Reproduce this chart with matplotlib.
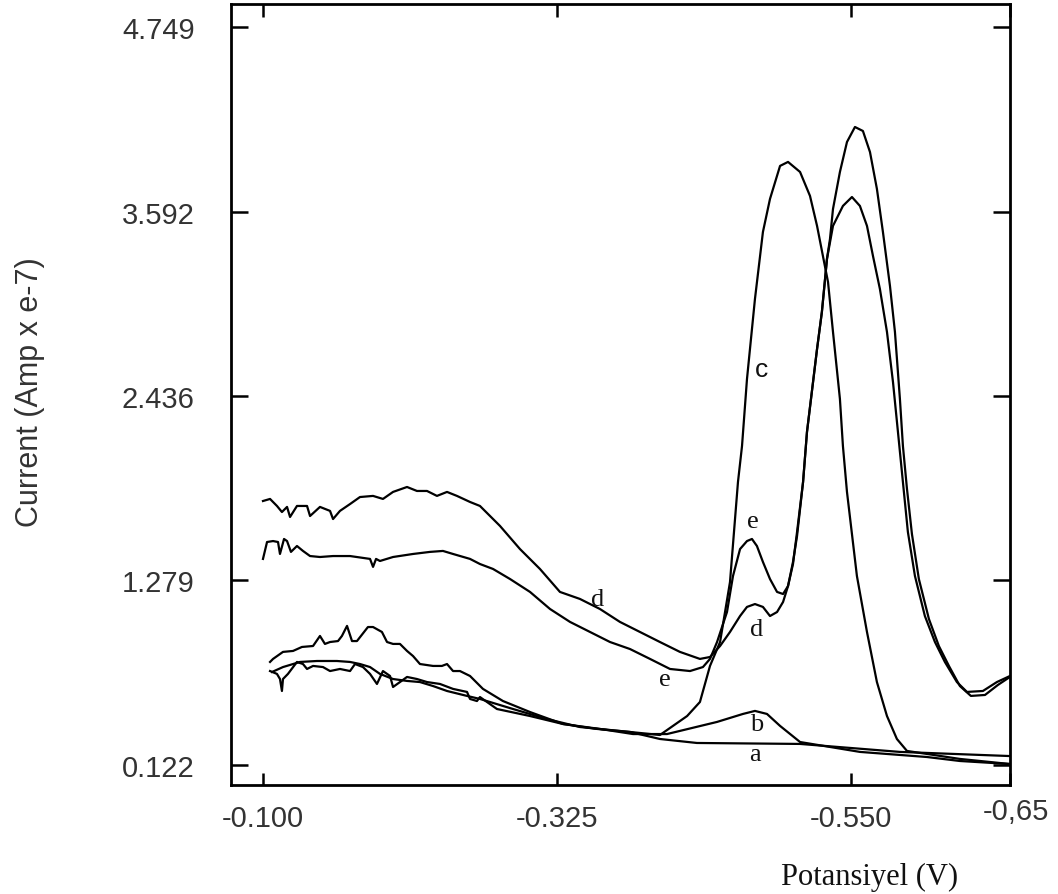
import matplotlib
matplotlib.use("Agg")
import matplotlib.pyplot as plt
from matplotlib.transforms import ScaledTranslation

# curve a (baseline)
a_x = [-0.1069, -0.1153, -0.1283, -0.1413, -0.1566, -0.1666, -0.1742, -0.1819, -0.1895, -0.1995,
       -0.2102, -0.2201, -0.2301, -0.2408, -0.2561, -0.2660, -0.2913, -0.3173, -0.3425, -0.3808,
       -0.4037, -0.4320, -0.5109, -0.5873, -0.6715]
a_y = [0.705, 0.736, 0.768, 0.774, 0.774, 0.768, 0.755, 0.736, 0.693, 0.661,
       0.649, 0.642, 0.617, 0.586, 0.555, 0.536, 0.473, 0.410, 0.360, 0.329,
       0.285, 0.260, 0.254, 0.204, 0.178]

# curve b (small peak)
b_x = [-0.1054, -0.1107, -0.1130, -0.1145, -0.1153, -0.1191, -0.1260, -0.1306, -0.1337, -0.1383,
       -0.1459, -0.1513, -0.1589, -0.1666, -0.1704, -0.1765, -0.1819, -0.1872, -0.1918, -0.1972,
       -0.1995, -0.2048, -0.2102, -0.2178, -0.2255, -0.2354, -0.2454, -0.2561, -0.2584, -0.2637,
       -0.2660, -0.2790, -0.3043, -0.3295, -0.3578, -0.3831, -0.4091, -0.4474, -0.4672, -0.4764,
       -0.4856, -0.4956, -0.5109, -0.5567, -0.6080, -0.6332, -0.6715]
b_y = [0.711, 0.693, 0.661, 0.586, 0.661, 0.693, 0.768, 0.755, 0.724, 0.743,
       0.736, 0.711, 0.724, 0.711, 0.755, 0.736, 0.693, 0.630, 0.711, 0.680,
       0.611, 0.642, 0.674, 0.661, 0.642, 0.630, 0.599, 0.580, 0.536, 0.523,
       0.548, 0.473, 0.429, 0.379, 0.348, 0.316, 0.316, 0.392, 0.442, 0.461,
       0.442, 0.367, 0.266, 0.204, 0.172, 0.147, 0.128]

# curve c (big single peak)
c_x = [-0.1054, -0.1077, -0.1153, -0.1230, -0.1298, -0.1383, -0.1436, -0.1474, -0.1513, -0.1574,
       -0.1604, -0.1643, -0.1681, -0.1719, -0.1803, -0.1842, -0.1910, -0.1949, -0.1995, -0.2048,
       -0.2102, -0.2148, -0.2201, -0.2301, -0.2369, -0.2408, -0.2454, -0.2507, -0.2584, -0.2683,
       -0.2836, -0.3043, -0.3295, -0.3555, -0.3808, -0.4037, -0.4245, -0.4343, -0.4420, -0.4497,
       -0.4573, -0.4634, -0.4665, -0.4703, -0.4764, -0.4825, -0.4879, -0.4956, -0.5017, -0.5109,
       -0.5185, -0.5239, -0.5284, -0.5323, -0.5361, -0.5414, -0.5437, -0.5468, -0.5544, -0.5621,
       -0.5697, -0.5774, -0.5850, -0.5927, -0.6332, -0.6715]
c_y = [0.768, 0.787, 0.831, 0.837, 0.862, 0.868, 0.931, 0.881, 0.893, 0.899,
       0.931, 0.994, 0.899, 0.899, 0.987, 0.987, 0.956, 0.893, 0.881, 0.881,
       0.837, 0.805, 0.755, 0.743, 0.743, 0.755, 0.711, 0.711, 0.680, 0.599,
       0.523, 0.454, 0.379, 0.348, 0.329, 0.310, 0.429, 0.517, 0.743, 0.893,
       1.269, 1.896, 2.122, 2.542, 3.044, 3.464, 3.671, 3.878, 3.903, 3.840,
       3.690, 3.502, 3.313, 3.150, 2.837, 2.417, 2.122, 1.834, 1.307, 0.956,
       0.642, 0.429, 0.285, 0.210, 0.160, 0.128]

# curve d
d_x = [-0.1000, -0.1054, -0.1107, -0.1145, -0.1184, -0.1207, -0.1260, -0.1337, -0.1360, -0.1436,
       -0.1513, -0.1536, -0.1589, -0.1666, -0.1742, -0.1842, -0.1918, -0.1995, -0.2102, -0.2178,
       -0.2255, -0.2331, -0.2408, -0.2484, -0.2584, -0.2660, -0.2813, -0.2966, -0.3119, -0.3272,
       -0.3425, -0.3578, -0.3731, -0.3884, -0.4037, -0.4190, -0.4343, -0.4420, -0.4497, -0.4573,
       -0.4650, -0.4703, -0.4764, -0.4825, -0.4879, -0.4933, -0.4979, -0.5017, -0.5055, -0.5086,
       -0.5132, -0.5162, -0.5239, -0.5276, -0.5315, -0.5361, -0.5437, -0.5506, -0.5567, -0.5621,
       -0.5667, -0.5720, -0.5774, -0.5820, -0.5858, -0.5896, -0.5934, -0.5988, -0.6064, -0.6141,
       -0.6217, -0.6309, -0.6386, -0.6508, -0.6615, -0.6715]
d_y = [1.777, 1.790, 1.746, 1.708, 1.740, 1.677, 1.746, 1.746, 1.683, 1.740,
       1.715, 1.664, 1.715, 1.758, 1.802, 1.809, 1.790, 1.834, 1.865, 1.840,
       1.840, 1.809, 1.834, 1.809, 1.771, 1.746, 1.621, 1.476, 1.351, 1.207,
       1.163, 1.100, 1.019, 0.956, 0.893, 0.831, 0.787, 0.799, 0.868, 0.956,
       1.056, 1.113, 1.131, 1.113, 1.056, 1.081, 1.144, 1.244, 1.395, 1.558,
       1.896, 2.210, 2.730, 2.962, 3.295, 3.502, 3.627, 3.683, 3.627, 3.502,
       3.313, 3.106, 2.837, 2.523, 2.210, 1.896, 1.583, 1.307, 1.056, 0.893,
       0.768, 0.642, 0.580, 0.586, 0.642, 0.680]

# curve e
e_x = [-0.1000, -0.1031, -0.1077, -0.1115, -0.1130, -0.1161, -0.1184, -0.1214, -0.1260, -0.1306,
       -0.1360, -0.1436, -0.1536, -0.1666, -0.1819, -0.1842, -0.1865, -0.1895, -0.1995, -0.2148,
       -0.2278, -0.2377, -0.2454, -0.2584, -0.2660, -0.2760, -0.2890, -0.3043, -0.3196, -0.3349,
       -0.3502, -0.3655, -0.3808, -0.3961, -0.4114, -0.4267, -0.4366, -0.4420, -0.4474, -0.4550,
       -0.4596, -0.4650, -0.4703, -0.4741, -0.4779, -0.4825, -0.4879, -0.4933, -0.4979, -0.5017,
       -0.5055, -0.5086, -0.5132, -0.5162, -0.5239, -0.5276, -0.5315, -0.5338, -0.5361, -0.5414,
       -0.5468, -0.5529, -0.5590, -0.5644, -0.5697, -0.5743, -0.5797, -0.5835, -0.5873, -0.5896,
       -0.5927, -0.5965, -0.6018, -0.6095, -0.6171, -0.6248, -0.6332, -0.6416, -0.6524, -0.6623,
       -0.6715]
e_y = [1.414, 1.520, 1.526, 1.520, 1.445, 1.539, 1.526, 1.458, 1.495, 1.464,
       1.432, 1.426, 1.432, 1.432, 1.414, 1.364, 1.414, 1.401, 1.426, 1.445,
       1.458, 1.464, 1.445, 1.414, 1.382, 1.351, 1.288, 1.207, 1.100, 1.019,
       0.956, 0.893, 0.849, 0.787, 0.724, 0.711, 0.736, 0.787, 0.893, 1.081,
       1.307, 1.476, 1.526, 1.539, 1.495, 1.395, 1.288, 1.207, 1.194, 1.244,
       1.382, 1.583, 1.896, 2.210, 2.730, 2.962, 3.295, 3.420, 3.608, 3.840,
       4.028, 4.122, 4.097, 3.965, 3.734, 3.464, 3.125, 2.837, 2.417, 2.122,
       1.853, 1.570, 1.288, 1.037, 0.868, 0.743, 0.617, 0.555, 0.561, 0.624,
       0.674]

x_ticks = [-0.100, -0.325, -0.550, -0.6715]
x_labels = ['-0.100', '-0.325', '-0.550', '-0,65']
y_ticks = [0.122, 1.279, 2.436, 3.592, 4.749]
y_labels = ['0.122', '1.279', '2.436', '3.592', '4.749']

# curve letters: (text, x, y, font)
letters = [('c', -0.4817, 2.605, 'Liberation Sans'),
           ('e', -0.4749, 1.652, 'Liberation Serif'),
           ('d', -0.3563, 1.163, 'Liberation Serif'),
           ('d', -0.4779, 0.975, 'Liberation Serif'),
           ('e', -0.4075, 0.661, 'Liberation Serif'),
           ('b', -0.4779, 0.379, 'Liberation Serif'),
           ('a', -0.4764, 0.191, 'Liberation Serif')]

fig = plt.figure(figsize=(10.58, 8.95), dpi=100)
ax = fig.add_axes([0.2183, 0.1218, 0.7363, 0.8726])

for xs, ys in [(a_x, a_y), (b_x, b_y), (c_x, c_y), (d_x, d_y), (e_x, e_y)]:
    ax.plot(xs, ys, color='black', lw=1.6)

for t, x, y, fam in letters:
    ax.text(x, y, t, family=fam, fontsize=19, ha='center', va='center', color='#111111')

ax.set_xlim(-0.0755, -0.6715)
ax.set_ylim(-0.0034, 4.893)

ax.set_xticks(x_ticks)
ax.set_xticklabels(x_labels)
ax.set_yticks(y_ticks)
ax.set_yticklabels(y_labels)

for s in ax.spines.values():
    s.set_linewidth(2)

ax.tick_params(axis='y', direction='in', length=12, width=1.8, pad=26,
               labelsize=21, labelcolor='#333333', right=True)
ax.tick_params(axis='x', direction='in', length=9, width=1.8, pad=14,
               labelsize=21, labelcolor='#333333', top=True)
for lab in ax.get_xticklabels() + ax.get_yticklabels():
    lab.set_family('Liberation Sans')

# the last x label sits a little higher
last = ax.get_xticklabels()[-1]
last.set_transform(last.get_transform() + ScaledTranslation(0.06, 0.07, fig.dpi_scale_trans))

fig.text(0.028, 0.562, 'Current (Amp x e-7)', rotation=90, ha='center', va='center',
         family='Liberation Sans', fontsize=22, color='#333333')
fig.text(0.822, 0.02, 'Potansiyel (V)', ha='center', va='center',
         family='Liberation Serif', fontsize=22, color='#111111')

fig.savefig('out.png', dpi=100)
